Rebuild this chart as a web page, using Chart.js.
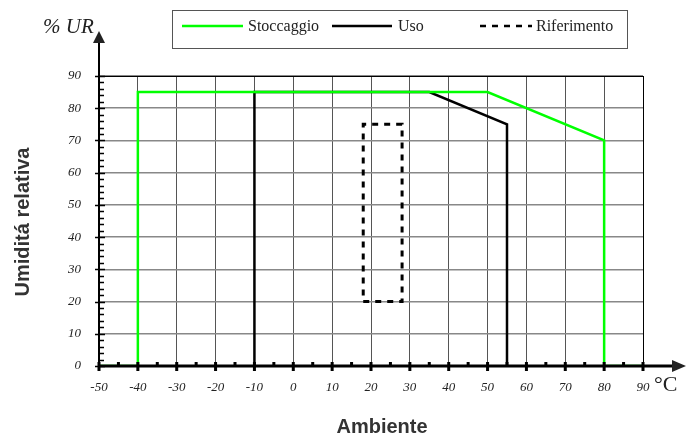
<!DOCTYPE html>
<html>
<head>
<meta charset="utf-8">
<script src="https://cdn.jsdelivr.net/npm/chart.js@4"></script>
<style>
  html, body { margin: 0; padding: 0; background: #fff; }
  #wrap { width: 690px; height: 436px; }
</style>
</head>
<body>
<div id="wrap"><canvas id="lineChart" width="690" height="436"></canvas></div>
<script>
// data
var xTicks = [-50, -40, -30, -20, -10, 0, 10, 20, 30, 40, 50, 60, 70, 80, 90];
var yTicks = [0, 10, 20, 30, 40, 50, 60, 70, 80, 90];
var stoccaggioX = [-50, -40, -40, 50, 80, 80, 90];
var stoccaggioY = [0, 0, 85, 85, 70, 0, 0];
var usoX = [-10, -10, 35, 55, 55];
var usoY = [0, 85, 85, 75, 0];
var riferimentoX = [18, 28, 28, 18, 18];
var riferimentoY = [20, 20, 75, 75, 20];

function toPoints(xs, ys) {
    return xs.map(function (x, i) { return { x: x, y: ys[i] }; });
}

var serif = '"Liberation Serif", "DejaVu Serif", serif';
var sans = '"Liberation Sans", Arial, sans-serif';

// arrows, minor ticks, titles, legend box
var decorations = {
    id: 'decorations',
    beforeDatasetsDraw: function (chart) {
        var c = chart.ctx, a = chart.chartArea;
        c.save();
        // frame top / right
        c.strokeStyle = '#000';
        c.lineWidth = 1;
        c.beginPath();
        c.moveTo(a.left, a.top + 0.5); c.lineTo(a.right, a.top + 0.5);
        c.moveTo(a.right + 0.5, a.top); c.lineTo(a.right + 0.5, a.bottom);
        c.stroke();
        c.restore();
    },
    afterDatasetsDraw: function (chart) {
        var c = chart.ctx, a = chart.chartArea;
        var xs = chart.scales.x, ys = chart.scales.y;
        c.save();
        c.strokeStyle = '#000';
        c.fillStyle = '#000';
        // x axis
        c.lineWidth = 3;
        c.beginPath();
        c.moveTo(a.left, a.bottom); c.lineTo(676, a.bottom);
        c.stroke();
        c.fillStyle = '#222';
        c.beginPath();
        c.moveTo(686, a.bottom); c.lineTo(672, a.bottom - 6); c.lineTo(672, a.bottom + 6); c.closePath();
        c.fill();
        // y axis
        c.lineWidth = 2;
        c.beginPath();
        c.moveTo(a.left, a.bottom); c.lineTo(a.left, 40);
        c.stroke();
        c.beginPath();
        c.moveTo(a.left, 31); c.lineTo(a.left - 6, 43); c.lineTo(a.left + 6, 43); c.closePath();
        c.fill();
        // x ticks
        c.fillStyle = '#000';
        for (var v = -50; v <= 90; v += 5) {
            var px = xs.getPixelForValue(v);
            var major = v % 10 === 0;
            c.fillRect(px - 1.5, a.bottom - 4, 3, major ? 9 : 5);
        }
        // y ticks
        c.lineWidth = 1.5;
        c.beginPath();
        for (var w = 0; w <= 90; w += 2) {
            var py = Math.round(ys.getPixelForValue(w)) + 0.5;
            if (w % 10 === 0) { c.moveTo(a.left - 4, py); c.lineTo(a.left + 6, py); }
            else { c.moveTo(a.left, py); c.lineTo(a.left + 5, py); }
        }
        c.stroke();

        // axis captions
        c.fillStyle = '#222';
        c.font = 'italic 21px ' + serif;
        c.textAlign = 'left';
        c.textBaseline = 'alphabetic';
        c.fillText('% UR', 43, 33);
        c.font = '22px ' + serif;
        c.fillText('\u00B0C', 654, 391);

        c.fillStyle = '#333';
        c.font = 'bold 20px ' + sans;
        c.textAlign = 'center';
        c.textBaseline = 'middle';
        c.fillText('Ambiente', (a.left + a.right) / 2 + 11, 427);
        c.save();
        c.translate(23, 222);
        c.rotate(-Math.PI / 2);
        c.fillText('Umidit\u00E1 relativa', 0, 0);
        c.restore();

        // legend box
        c.strokeStyle = '#555';
        c.lineWidth = 1;
        c.strokeRect(172.5, 10.5, 455, 38);
        var ly = 26;
        c.lineWidth = 2.5;
        c.strokeStyle = '#00ff00';
        c.beginPath(); c.moveTo(182, ly); c.lineTo(243, ly); c.stroke();
        c.strokeStyle = '#000';
        c.beginPath(); c.moveTo(332, ly); c.lineTo(392, ly); c.stroke();
        c.setLineDash([6, 6]);
        c.beginPath(); c.moveTo(480, ly); c.lineTo(532, ly); c.stroke();
        c.setLineDash([]);
        c.fillStyle = '#222';
        c.font = '16px ' + serif;
        c.textAlign = 'left';
        c.textBaseline = 'middle';
        c.fillText('Stoccaggio', 248, ly + 1);
        c.fillText('Uso', 398, ly + 1);
        c.fillText('Riferimento', 536, ly + 1);
        c.restore();
    }
};

var ctx = document.getElementById('lineChart').getContext('2d');
var myChart = new Chart(ctx, {
    type: 'scatter',
    data: {
        datasets: [{
            label: 'Stoccaggio',
            data: toPoints(stoccaggioX, stoccaggioY),
            showLine: true,
            borderColor: '#00ff00',
            borderWidth: 2.5,
            pointRadius: 0,
            fill: false
        }, {
            label: 'Uso',
            data: toPoints(usoX, usoY),
            showLine: true,
            borderColor: '#000',
            borderWidth: 2.5,
            pointRadius: 0,
            fill: false
        }, {
            label: 'Riferimento',
            data: toPoints(riferimentoX, riferimentoY),
            showLine: true,
            borderColor: '#000',
            borderWidth: 3,
            borderDash: [6, 6],
            pointRadius: 0,
            fill: false
        }]
    },
    options: {
        responsive: false,
        animation: false,
        layout: { padding: { left: 0, right: 47, top: 76, bottom: 0 } },
        plugins: { legend: { display: false }, tooltip: { enabled: false } },
        scales: {
            x: {
                type: 'linear',
                min: -50,
                max: 90,
                afterBuildTicks: function (s) { s.ticks = xTicks.map(function (v) { return { value: v }; }); },
                afterFit: function (s) { s.height = 70; },
                border: { display: false },
                grid: { color: '#555', lineWidth: 1, drawTicks: false },
                ticks: {
                    padding: 14,
                    color: '#222',
                    font: { family: serif, style: 'italic', size: 13 },
                    maxRotation: 0
                }
            },
            y: {
                type: 'linear',
                min: 0,
                max: 90,
                afterBuildTicks: function (s) { s.ticks = yTicks.map(function (v) { return { value: v }; }); },
                afterFit: function (s) { s.width = 99; },
                border: { display: false },
                grid: { color: '#888', lineWidth: 1.5, drawTicks: false },
                ticks: {
                    padding: 18,
                    color: '#222',
                    font: { family: serif, style: 'italic', size: 13 }
                }
            }
        }
    },
    plugins: [decorations]
});
</script>
</body>
</html>
